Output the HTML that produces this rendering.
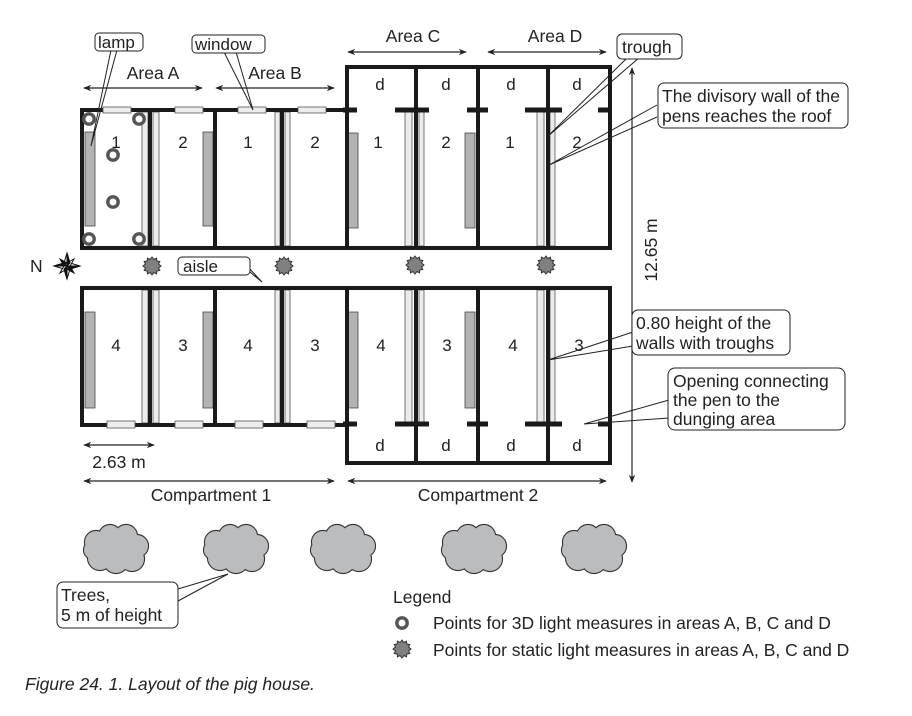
<!DOCTYPE html>
<html><head><meta charset="utf-8"><style>
html,body{margin:0;padding:0;background:#fff;}
svg{display:block;font-family:"Liberation Sans",sans-serif;}
</style></head><body>
<svg width="912" height="716" viewBox="0 0 912 716" xmlns="http://www.w3.org/2000/svg">
<defs>
<marker id="ah" viewBox="0 0 10 10" refX="9" refY="5" markerWidth="8" markerHeight="8" orient="auto-start-reverse" markerUnits="userSpaceOnUse"><path d="M0,1 L10,5 L0,9 L3,5 z" fill="#222"/></marker>
<g id="star"><polygon points="0,-9 2,-6.5 4.5,-7.8 4.8,-5 7.8,-4.5 6.5,-2 9,0 6.5,2 7.8,4.5 4.8,5 4.5,7.8 2,6.5 0,9 -2,6.5 -4.5,7.8 -4.8,5 -7.8,4.5 -6.5,2 -9,0 -6.5,-2 -7.8,-4.5 -4.8,-5 -4.5,-7.8 -2,-6.5" fill="#808080" stroke="#333" stroke-width="1"/></g>
<g id="ring"><circle r="5.2" fill="#fff" stroke="#555" stroke-width="3.4"/></g>
<g id="cloud">
<g stroke="#333" stroke-width="2.2" fill="#bbbcbe">
<circle cx="-20" cy="-7" r="11"/><circle cx="-6" cy="-13" r="11"/><circle cx="10" cy="-13" r="11"/><circle cx="21" cy="-3" r="11"/><circle cx="16" cy="10" r="12"/><circle cx="0" cy="12" r="12"/><circle cx="-16" cy="9" r="12"/><circle cx="-23" cy="1" r="9"/>
</g>
<g fill="#bbbcbe">
<circle cx="-20" cy="-7" r="11"/><circle cx="-6" cy="-13" r="11"/><circle cx="10" cy="-13" r="11"/><circle cx="21" cy="-3" r="11"/><circle cx="16" cy="10" r="12"/><circle cx="0" cy="12" r="12"/><circle cx="-16" cy="9" r="12"/><circle cx="-23" cy="1" r="9"/><ellipse cx="0" cy="0" rx="22" ry="14"/>
</g>
</g>
</defs>

<g fill="#b3b3b3" stroke="#444" stroke-width="0.8">
<rect x="85" y="132" width="10" height="94"/>
<rect x="203" y="132" width="10" height="94"/>
<rect x="348" y="133" width="10" height="95"/>
<rect x="465" y="133" width="10" height="95"/>
<rect x="85" y="312" width="10" height="96"/>
<rect x="203" y="312" width="10" height="96"/>
<rect x="348" y="312" width="10" height="96"/>
<rect x="465" y="312" width="10" height="96"/>
</g>

<g fill="#ececec" stroke="#555" stroke-width="0.8">
<rect x="142" y="112" width="6" height="134"/><rect x="153" y="112" width="6" height="134"/>
<rect x="275" y="112" width="5" height="134"/><rect x="285" y="112" width="5" height="134"/>
<rect x="405" y="112" width="7" height="134"/><rect x="419" y="112" width="5" height="134"/>
<rect x="537" y="112" width="7" height="134"/><rect x="550" y="112" width="5" height="134"/>
<rect x="142" y="290" width="6" height="133"/><rect x="153" y="290" width="6" height="133"/>
<rect x="275" y="290" width="5" height="133"/><rect x="285" y="290" width="5" height="133"/>
<rect x="405" y="290" width="7" height="133"/><rect x="419" y="290" width="5" height="133"/>
<rect x="537" y="290" width="7" height="133"/><rect x="550" y="290" width="5" height="133"/>
</g>

<g fill="none" stroke="#1a1a1a" stroke-width="4">
<rect x="82" y="110" width="265" height="138"/>
<rect x="347" y="67" width="263" height="181"/>
<line x1="150" y1="110" x2="150" y2="248"/><line x1="215" y1="110" x2="215" y2="248"/><line x1="282" y1="110" x2="282" y2="248"/>
<line x1="416" y1="67" x2="416" y2="248"/><line x1="478" y1="67" x2="478" y2="248"/><line x1="548" y1="67" x2="548" y2="248"/>
<rect x="82" y="288" width="265" height="137"/>
<rect x="347" y="288" width="263" height="175"/>
<line x1="150" y1="288" x2="150" y2="425"/><line x1="215" y1="288" x2="215" y2="425"/><line x1="282" y1="288" x2="282" y2="425"/>
<line x1="416" y1="288" x2="416" y2="463"/><line x1="478" y1="288" x2="478" y2="463"/><line x1="548" y1="288" x2="548" y2="463"/>
</g>
<g stroke="#1a1a1a" stroke-width="5">
<line x1="343" y1="110" x2="357" y2="110"/><line x1="395" y1="110" x2="429" y2="110"/><line x1="467" y1="110" x2="488" y2="110"/><line x1="525" y1="110" x2="562" y2="110"/><line x1="598" y1="110" x2="612" y2="110"/>
<line x1="343" y1="424" x2="357" y2="424"/><line x1="395" y1="424" x2="429" y2="424"/><line x1="467" y1="424" x2="488" y2="424"/><line x1="525" y1="424" x2="562" y2="424"/><line x1="598" y1="424" x2="612" y2="424"/>
</g>

<g fill="#ececec" stroke="#555" stroke-width="0.8">
<rect x="103" y="107" width="28" height="6"/><rect x="175" y="107" width="28" height="6"/><rect x="238" y="107" width="28" height="6"/><rect x="298" y="107" width="28" height="6"/>
<rect x="107" y="421" width="28" height="7"/><rect x="175" y="421" width="28" height="7"/><rect x="235" y="421" width="28" height="7"/><rect x="307" y="421" width="28" height="7"/>
</g>

<use href="#ring" x="89" y="119"/><use href="#ring" x="139" y="119"/><use href="#ring" x="113" y="155"/><use href="#ring" x="113" y="202"/><use href="#ring" x="89" y="239"/><use href="#ring" x="139" y="239"/>

<use href="#star" x="152" y="266"/><use href="#star" x="284" y="266"/><use href="#star" x="415" y="265"/><use href="#star" x="546" y="265"/>

<g font-size="17" fill="#222" text-anchor="middle">
<text x="116" y="148">1</text><text x="183" y="148">2</text><text x="248" y="148">1</text><text x="315" y="148">2</text>
<text x="378" y="148">1</text><text x="446" y="148">2</text><text x="510" y="148">1</text><text x="577" y="148">2</text>
<text x="380" y="90">d</text><text x="446" y="90">d</text><text x="511" y="90">d</text><text x="577" y="90">d</text>
<text x="116" y="351">4</text><text x="183" y="351">3</text><text x="248" y="351">4</text><text x="315" y="351">3</text>
<text x="381" y="351">4</text><text x="447" y="351">3</text><text x="513" y="351">4</text><text x="579" y="351">3</text>
<text x="380" y="451">d</text><text x="446" y="451">d</text><text x="511" y="451">d</text><text x="577" y="451">d</text>
</g>

<g stroke="#222" stroke-width="1.2" marker-start="url(#ah)" marker-end="url(#ah)">
<line x1="84" y1="88" x2="202" y2="88"/>
<line x1="216" y1="88" x2="334" y2="88"/>
<line x1="348" y1="52" x2="466" y2="52"/>
<line x1="488" y1="52" x2="606" y2="52"/>
<line x1="84" y1="445" x2="154" y2="445"/>
<line x1="84" y1="481" x2="334" y2="481"/>
<line x1="348" y1="481" x2="606" y2="481"/>
<line x1="632" y1="68" x2="632" y2="482"/>
</g>
<g font-size="17.5" fill="#222" text-anchor="middle">
<text x="153" y="79">Area A</text><text x="275" y="79">Area B</text>
<text x="413" y="42">Area C</text><text x="555" y="42">Area D</text>
<text x="119" y="468">2.63 m</text>
<text x="211" y="501">Compartment 1</text><text x="478" y="501">Compartment 2</text>
<text transform="translate(657,250) rotate(-90)">12.65 m</text>
</g>

<g transform="translate(67,266)" stroke="#111" stroke-width="1">
<polygon points="0,-13 3,-3 13,0 3,3 0,13 -3,3 -13,0 -3,-3" fill="#fff"/>
<polygon points="-7,-7 2,-2 7,7 -2,2" fill="#111"/>
<polygon points="7,-7 2,2 -7,7 -2,-2" fill="#fff"/>
<polygon points="0,-13 3,-3 0,0" fill="#111"/><polygon points="13,0 3,3 0,0" fill="#111"/><polygon points="0,13 -3,3 0,0" fill="#111"/><polygon points="-13,0 -3,-3 0,0" fill="#111"/>
</g>
<text x="30" y="272" font-size="17.5" fill="#222">N</text>

<g fill="none" stroke="#222" stroke-width="1">
<polyline points="111,50 91,146 117,50"/>
<polyline points="224,52 253,110 236,52"/>
<polyline points="628,57 547,137 640,57"/>
<polyline points="657,105 549,165 657,117"/>
<polyline points="633,332 548,360 633,346"/>
<polyline points="669,400 584,424 669,418"/>
<polyline points="247,266 262,282 250,272"/>
<polyline points="178,589 228,574 178,601"/>
</g>
<g fill="#fff" stroke="#222" stroke-width="1">
<rect x="95" y="33" width="48" height="18" rx="4"/>
<rect x="192" y="35" width="73" height="18" rx="4"/>
<rect x="617" y="34" width="65" height="25" rx="5"/>
<rect x="658" y="83" width="190" height="45" rx="6"/>
<rect x="632" y="310" width="158" height="45" rx="6"/>
<rect x="668" y="368" width="177" height="62" rx="7"/>
<rect x="178" y="257" width="72" height="18" rx="4"/>
<rect x="57" y="582" width="121" height="46" rx="6"/>
</g>
<g font-size="17.5" fill="#222">
<text x="98" y="48" font-size="17">lamp</text>
<text x="195" y="50" font-size="17">window</text>
<text x="622" y="53">trough</text>
<text x="662" y="102">The divisory wall of the</text>
<text x="662" y="122">pens reaches the roof</text>
<text x="636" y="329">0.80 height of the</text>
<text x="636" y="349">walls with troughs</text>
<text x="673" y="387">Opening connecting</text>
<text x="673" y="406">the pen to the</text>
<text x="673" y="425">dunging area</text>
<text x="183" y="272" font-size="17">aisle</text>
<text x="61" y="601">Trees,</text>
<text x="61" y="621">5 m of height</text>
</g>

<use href="#cloud" x="116" y="549"/><use href="#cloud" x="236" y="549"/><use href="#cloud" x="343" y="549"/><use href="#cloud" x="474" y="549"/><use href="#cloud" x="594" y="549"/>

<g font-size="17.5" fill="#222">
<text x="393" y="603">Legend</text>
<text x="433" y="629">Points for 3D light measures in areas A, B, C and D</text>
<text x="433" y="656">Points for static light measures in areas A, B, C and D</text>
</g>
<use href="#ring" x="402" y="623"/>
<use href="#star" x="402" y="649"/>

<text x="25" y="690" font-size="17.5" font-style="italic" fill="#222">Figure 24. 1. Layout of the pig house.</text>
</svg>
</body></html>
